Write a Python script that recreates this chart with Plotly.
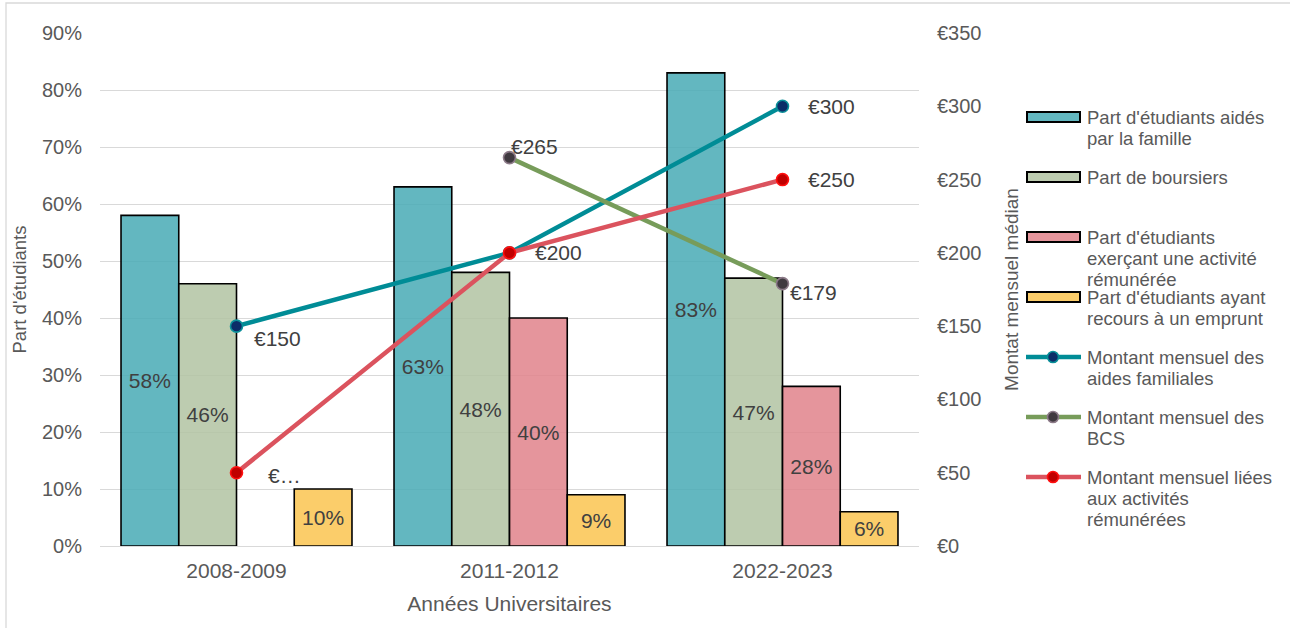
import plotly.graph_objects as go

# ---------------------------------------------------------------- data
years = ["2008-2009", "2011-2012", "2022-2023"]

# Shares of students (fraction of all students)
share_family = [0.58, 0.63, 0.83]
share_grant = [0.46, 0.48, 0.47]
share_work = [None, 0.40, 0.28]
share_loan = [0.10, 0.09, 0.06]

# Median monthly amounts, in euros
amount_family = [150, 200, 300]
amount_bcs = [None, 265, 179]
amount_work = [50, 200, 250]

# Point labels that do not fit are shown truncated
truncated_labels = {("work", 0)}

bar_names = [
    "Part d'étudiants aidés<br>par la famille",
    "Part de boursiers",
    "Part d'étudiants<br>exerçant une activité<br>rémunérée",
    "Part d'étudiants ayant<br>recours à un emprunt",
]
line_names = [
    "Montant mensuel des<br>aides familiales",
    "Montant mensuel des<br>BCS",
    "Montant mensuel liées<br>aux activités<br>rémunérées",
]

pct_ticks = [0, 0.1, 0.2, 0.3, 0.4, 0.5, 0.6, 0.7, 0.8, 0.9]
eur_ticks = [0, 50, 100, 150, 200, 250, 300, 350]
eur_tick_text = [f"€{v}" for v in eur_ticks]

# ---------------------------------------------------------------- style
FONT = "Liberation Sans, Arial, sans-serif"
TICK_GREY = "#595959"
LABEL_GREY = "#404040"
GRID = "#D9D9D9"

bar_fills = [
    "rgba(72,170,181,0.85)",
    "rgba(178,195,162,0.85)",
    "rgba(224,130,139,0.85)",
    "rgba(250,196,80,0.85)",
]
line_styles = [
    dict(line="#008C96", marker="#0B2C68", edge="#0A8F99"),
    dict(line="#779C5A", marker="#403A40", edge="#8C7A88"),
    dict(line="#DB535E", marker="#C00000", edge="#FF1010"),
]

W, H = 1290, 628
ML, MR, MT, MB = 100, 371, 33, 82
PW, PH = W - ML - MR, H - MT - MB


def px(x):
    return (x - ML) / PW


def py(y):
    return (H - MB - y) / PH


fig = go.Figure()

# ---------------------------------------------------------------- bars
for vals, name, fill in zip(
    [share_family, share_grant, share_work, share_loan], bar_names, bar_fills
):
    fig.add_trace(
        go.Bar(
            x=years,
            y=vals,
            name=name,
            marker=dict(color=fill, line=dict(color="#000000", width=1.6)),
            texttemplate="%{y:.0%}",
            textposition="inside",
            insidetextanchor="middle",
            textangle=0,
            constraintext="none",
            textfont=dict(family=FONT, size=21, color=LABEL_GREY),
            showlegend=False,
            hoverinfo="skip",
        )
    )

# ---------------------------------------------------------------- lines
series = [("family", amount_family), ("bcs", amount_bcs), ("work", amount_work)]
for (key, vals), name, st in zip(series, line_names, line_styles):
    fig.add_trace(
        go.Scatter(
            x=years,
            y=vals,
            name=name,
            yaxis="y2",
            mode="lines+markers",
            connectgaps=False,
            line=dict(color=st["line"], width=4.5),
            marker=dict(size=12, color=st["marker"], line=dict(color=st["edge"], width=1.6)),
            showlegend=False,
            hoverinfo="skip",
        )
    )

# value labels next to the line points (pixel offsets from each point)
label_offsets = {
    "family": [(15, -12), (23, 0), (23, 0)],
    "bcs": [None, (-1, 11), (5, -9)],
    "work": [(29, -3), (23, 0), (23, 0)],
}
placed = set()
for key, vals in series:
    for i, v in enumerate(vals):
        if v is None:
            continue
        if (i, v) in placed:
            continue
        placed.add((i, v))
        text = "€…" if (key, i) in truncated_labels else f"€{v}"
        dx, dy = label_offsets[key][i]
        fig.add_annotation(
            x=years[i], y=v, xref="x", yref="y2",
            text=text, showarrow=False,
            xanchor="left", yanchor="middle",
            xshift=dx, yshift=dy,
            font=dict(family=FONT, size=21, color=LABEL_GREY),
        )

# ---------------------------------------------------------------- legend (drawn on the right)
LEG_X0, LEG_X1, LEG_TEXT_X = 1027, 1080, 1085
LEG_TOP, LEG_PITCH, LEG_LINE = 117, 60, 21

for k, name in enumerate(bar_names + line_names):
    yc = LEG_TOP + LEG_PITCH * k
    if k < len(bar_names):
        fig.add_shape(
            type="rect", xref="paper", yref="paper",
            x0=px(LEG_X0), x1=px(LEG_X1), y0=py(yc - 5), y1=py(yc + 5),
            fillcolor=bar_fills[k], line=dict(color="#000000", width=2),
        )
    else:
        st = line_styles[k - len(bar_names)]
        fig.add_shape(
            type="line", xref="paper", yref="paper",
            x0=px(LEG_X0 - 1), x1=px(LEG_X1 + 1), y0=py(yc), y1=py(yc),
            line=dict(color=st["line"], width=4.5),
        )
        fig.add_shape(
            type="circle", xref="paper", yref="paper",
            x0=px(1053 - 5.5), x1=px(1053 + 5.5), y0=py(yc - 5.5), y1=py(yc + 5.5),
            fillcolor=st["marker"], line=dict(color=st["edge"], width=1.6),
        )
    for j, line in enumerate(name.split("<br>")):
        fig.add_annotation(
            xref="paper", yref="paper",
            x=px(LEG_TEXT_X), y=py(yc + LEG_LINE * j),
            text=line, showarrow=False,
            xanchor="left", yanchor="middle",
            font=dict(family=FONT, size=18.5, color=TICK_GREY),
        )

# outer frame of the chart area
fig.add_shape(
    type="rect", xref="paper", yref="paper",
    x0=px(6), x1=px(1320), y0=py(650), y1=py(3),
    line=dict(color=GRID, width=1.3), fillcolor="rgba(0,0,0,0)", layer="below",
)

# ---------------------------------------------------------------- layout
fig.update_layout(
    width=W, height=H,
    margin=dict(l=ML, r=MR, t=MT, b=MB, autoexpand=False),
    paper_bgcolor="white", plot_bgcolor="white",
    barmode="group", bargap=0.154, bargroupgap=0,
    showlegend=False,
    font=dict(family=FONT, color=TICK_GREY),
    xaxis=dict(
        type="category",
        showgrid=False, showline=False, zeroline=False, ticks="",
        ticklabelstandoff=10,
        tickfont=dict(family=FONT, size=21, color=TICK_GREY),
        title=dict(text="Années Universitaires", standoff=15,
                   font=dict(family=FONT, size=21, color=TICK_GREY)),
    ),
    yaxis=dict(
        range=[0, 0.9], tickvals=pct_ticks, tickformat=".0%",
        showgrid=True, gridcolor=GRID, gridwidth=1.3,
        zeroline=True, zerolinecolor=GRID, zerolinewidth=1.3,
        showline=False, ticks="",
        ticklabelstandoff=17,
        tickfont=dict(family=FONT, size=20, color=TICK_GREY),
        title=dict(text="Part d'étudiants", standoff=10,
                   font=dict(family=FONT, size=18.5, color=TICK_GREY)),
    ),
    yaxis2=dict(
        overlaying="y", side="right",
        range=[0, 350], tickvals=eur_ticks, ticktext=eur_tick_text,
        showgrid=False, zeroline=False, showline=False, ticks="",
        ticklabelstandoff=17,
        tickfont=dict(family=FONT, size=20, color=TICK_GREY),
        title=dict(text="Montat mensuel médian", standoff=24,
                   font=dict(family=FONT, size=19, color=TICK_GREY)),
    ),
)

fig.write_html("out.html")
